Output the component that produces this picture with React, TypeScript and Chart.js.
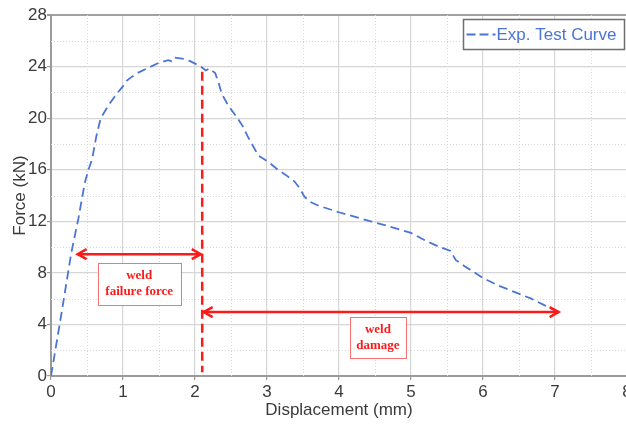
import React, { useEffect, useRef } from "react";
import { Chart, registerables } from "chart.js";

Chart.register(...registerables);

// ---- data ----
const curveX = [0, 0.15, 0.28, 0.38, 0.47, 0.52, 0.57, 0.63, 0.69, 0.8, 0.9, 0.99, 1.05, 1.12, 1.2, 1.35, 1.5, 1.63, 1.68, 1.72, 1.85, 1.94, 2.08, 2.15, 2.2, 2.28, 2.33, 2.37, 2.46, 2.59, 2.66, 2.73, 2.8, 2.88, 3.02, 3.15, 3.26, 3.38, 3.45, 3.52, 3.6, 3.72, 4.0, 4.25, 4.44, 4.7, 5.0, 5.2, 5.4, 5.55, 5.62, 5.75, 6.0, 6.22, 6.4, 6.67, 6.85, 7.05];
const curveY = [0, 5, 9.5, 12.2, 15, 16, 16.8, 18.6, 20, 21, 21.8, 22.4, 22.9, 23.2, 23.5, 23.9, 24.3, 24.5, 24.4, 24.7, 24.6, 24.4, 24.0, 23.7, 23.85, 23.5, 22.7, 21.9, 21.0, 20.0, 19.4, 18.6, 17.9, 17.1, 16.6, 16.0, 15.6, 15.1, 14.6, 13.9, 13.5, 13.2, 12.7, 12.3, 12.0, 11.6, 11.1, 10.5, 10.0, 9.7, 9.0, 8.5, 7.6, 7.0, 6.6, 6.0, 5.5, 4.95];

const seriesLabel = "Exp. Test Curve";

// red vertical failure line
const failLineX = [2.1, 2.1];
const failLineY = [23.6, 0.3];

// double arrows: [x1, x2, y]
const arrowFailure = [0.37, 2.08, 9.45];
const arrowDamage = [2.12, 7.05, 4.96];

// text boxes: [xLeft, xRight, yTop, yBottom]
const boxFailure = [0.65, 1.8, 8.75, 5.5];
const boxDamage = [4.15, 4.93, 4.55, 1.35];
const boxFailureText = ["weld", "failure force"];
const boxDamageText = ["weld", "damage"];

const xTitle = "Displacement (mm)";
const yTitle = "Force (kN)";

const BLUE = "#4a74d6";
const RED = "#ff1a1a";
const SANS = "'Liberation Sans', Arial, sans-serif";
const SERIF = "'Liberation Serif', 'Times New Roman', serif";

const minorGrid = {
  id: "minorGrid",
  beforeDatasetsDraw(chart: any) {
    const { ctx, chartArea, scales } = chart;
    const xs = scales.x;
    const ys = scales.y;
    ctx.save();
    ctx.strokeStyle = "#d8d8d8";
    ctx.lineWidth = 1;
    ctx.setLineDash([1, 2]);
    const xt = xs.ticks.map((t: any) => t.value);
    for (let i = 0; i < xt.length - 1; i++) {
      const px = Math.round(xs.getPixelForValue((xt[i] + xt[i + 1]) / 2)) + 0.5;
      ctx.beginPath();
      ctx.moveTo(px, chartArea.top);
      ctx.lineTo(px, chartArea.bottom);
      ctx.stroke();
    }
    const yt = ys.ticks.map((t: any) => t.value);
    for (let i = 0; i < yt.length - 1; i++) {
      const py = Math.round(ys.getPixelForValue((yt[i] + yt[i + 1]) / 2)) + 0.5;
      ctx.beginPath();
      ctx.moveTo(chartArea.left, py);
      ctx.lineTo(chartArea.right, py);
      ctx.stroke();
    }
    ctx.restore();
  },
};

function head(ctx: CanvasRenderingContext2D, x: number, y: number, dir: number) {
  ctx.beginPath();
  ctx.moveTo(x - dir * 9, y - 5);
  ctx.lineTo(x, y);
  ctx.lineTo(x - dir * 9, y + 5);
  ctx.stroke();
}

const annotations = {
  id: "annotations",
  afterDatasetsDraw(chart: any) {
    const { ctx, scales } = chart;
    const xs = scales.x;
    const ys = scales.y;
    ctx.save();
    ctx.strokeStyle = RED;
    ctx.lineWidth = 2.5;
    ctx.setLineDash([]);
    ctx.lineCap = "butt";
    ctx.lineJoin = "miter";
    [arrowFailure, arrowDamage].forEach((a) => {
      const x1 = xs.getPixelForValue(a[0]);
      const x2 = xs.getPixelForValue(a[1]);
      const y = ys.getPixelForValue(a[2]);
      head(ctx, x1, y, -1);
      head(ctx, x2, y, 1);
    });
    const boxes: [number[], string[]][] = [
      [boxFailure, boxFailureText],
      [boxDamage, boxDamageText],
    ];
    boxes.forEach(([b, lines]) => {
      const l = xs.getPixelForValue(b[0]);
      const r = xs.getPixelForValue(b[1]);
      const t = ys.getPixelForValue(b[2]);
      const bt = ys.getPixelForValue(b[3]);
      ctx.fillStyle = "#ffffff";
      ctx.fillRect(l, t, r - l, bt - t);
      ctx.strokeStyle = "#ff7070";
      ctx.lineWidth = 1;
      ctx.strokeRect(Math.round(l) + 0.5, Math.round(t) + 0.5, Math.round(r - l), Math.round(bt - t));
      ctx.fillStyle = RED;
      ctx.font = `bold 13px ${SERIF}`;
      ctx.textAlign = "center";
      ctx.textBaseline = "middle";
      const cx = (l + r) / 2;
      const cy = (t + bt) / 2;
      const lh = 16;
      lines.forEach((s, i) => {
        ctx.fillText(s, cx, cy + (i - (lines.length - 1) / 2) * lh);
      });
    });
    ctx.restore();
  },
  afterDraw(chart: any) {
    const { ctx } = chart;
    const ds = chart.data.datasets[0];
    ctx.save();
    const left = 463.5, top = 19.5, w = 161, h = 30;
    ctx.fillStyle = "#ffffff";
    ctx.fillRect(left, top, w, h);
    ctx.strokeStyle = "#6e6e6e";
    ctx.lineWidth = 1.5;
    ctx.strokeRect(left, top, w, h);
    ctx.strokeStyle = ds.borderColor;
    ctx.lineWidth = 1.8;
    ctx.setLineDash([9, 4]);
    ctx.beginPath();
    ctx.moveTo(left + 3, top + h / 2);
    ctx.lineTo(left + 32, top + h / 2);
    ctx.stroke();
    ctx.setLineDash([]);
    ctx.fillStyle = ds.borderColor;
    ctx.font = `17px ${SANS}`;
    ctx.textAlign = "left";
    ctx.textBaseline = "middle";
    ctx.fillText(ds.label, left + 33, top + h / 2 + 1);
    ctx.restore();
  },
};

export default function App() {
  const ref = useRef<HTMLCanvasElement | null>(null);
  useEffect(() => {
    if (!ref.current) return;
    const chart = new Chart(ref.current, {
      type: "line",
      data: {
        datasets: [
          {
            label: seriesLabel,
            data: curveX.map((x, i) => ({ x, y: curveY[i] })),
            borderColor: BLUE,
            backgroundColor: BLUE,
            borderWidth: 1.8,
            borderDash: [9, 5],
            pointRadius: 0,
            tension: 0,
            fill: false,
          },
          {
            label: "fail",
            data: failLineX.map((x, i) => ({ x, y: failLineY[i] })),
            borderColor: RED,
            borderWidth: 2.5,
            borderDash: [9, 5],
            pointRadius: 0,
            fill: false,
          },
          {
            label: "a1",
            data: [
              { x: arrowFailure[0], y: arrowFailure[2] },
              { x: arrowFailure[1], y: arrowFailure[2] },
            ],
            borderColor: RED,
            borderWidth: 2.5,
            pointRadius: 0,
            fill: false,
          },
          {
            label: "a2",
            data: [
              { x: arrowDamage[0], y: arrowDamage[2] },
              { x: arrowDamage[1], y: arrowDamage[2] },
            ],
            borderColor: RED,
            borderWidth: 2.5,
            pointRadius: 0,
            fill: false,
          },
        ],
      },
      options: {
        animation: false,
        responsive: false,
        maintainAspectRatio: false,
        layout: { padding: { left: 0, top: 15, right: 13, bottom: 0 } },
        plugins: { legend: { display: false }, tooltip: { enabled: false } },
        scales: {
          x: {
            type: "linear",
            min: 0,
            max: 8,
            ticks: {
              stepSize: 1,
              color: "#3a3a3a",
              font: { family: SANS, size: 17 },
              padding: 2,
              maxRotation: 0,
            },
            grid: {
              color: "#d6d6d6",
              lineWidth: 1.2,
              tickLength: 4,
              tickColor: "#999",
            },
            border: { color: "#9a9a9a", width: 2 },
            title: {
              display: true,
              text: xTitle,
              color: "#3a3a3a",
              font: { family: SANS, size: 17 },
              padding: { top: 0, bottom: 3 },
            },
            afterFit(scale: any) {
              scale.height = 48;
            },
          },
          y: {
            type: "linear",
            min: 0,
            max: 28,
            ticks: {
              stepSize: 4,
              color: "#3a3a3a",
              font: { family: SANS, size: 17 },
              padding: 0,
            },
            grid: {
              color: (c: any) => (c.tick && c.tick.value === 28 ? "#a0a0a0" : "#d6d6d6"),
              lineWidth: (c: any) => (c.tick && c.tick.value === 28 ? 2 : 1.2),
              tickLength: 4,
              tickColor: "#999",
            },
            border: { color: "#9a9a9a", width: 2 },
            title: {
              display: true,
              text: yTitle,
              color: "#3a3a3a",
              font: { family: SANS, size: 17 },
              padding: { top: 10, bottom: 0 },
            },
            afterFit(scale: any) {
              scale.width = 51;
            },
          },
        },
      },
      plugins: [minorGrid, annotations],
    });
    return () => chart.destroy();
  }, []);
  return (
    <div
      style={{
        position: "fixed",
        left: 0,
        top: 0,
        width: 626,
        height: 424,
        overflow: "hidden",
        background: "#fff",
      }}
    >
      <canvas ref={ref} width={640} height={424} style={{ display: "block", width: 640, height: 424 }} />
    </div>
  );
}
